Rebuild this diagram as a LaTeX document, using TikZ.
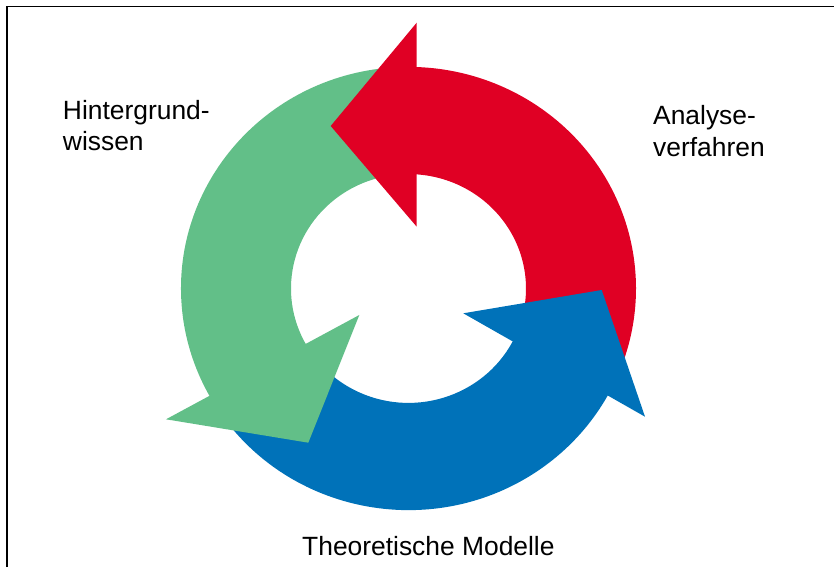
\documentclass[tikz,border=0pt]{standalone}
\usepackage{fontspec}
\setmainfont{Liberation Sans}
\definecolor{cyclered}{RGB}{224,0,36}
\definecolor{cyclegreen}{RGB}{98,191,136}
\definecolor{cycleblue}{RGB}{0,114,185}

\begin{document}
\begin{tikzpicture}[x=1pt, y=1pt, inner sep=0pt,
        cyclelabel/.style={font=\fontsize{26.4}{31.7}\selectfont, align=left, anchor=base west}]
    \useasboundingbox (-408.5, -278.5) rectangle (425.5, 288.5);
    \draw[line width=1.3pt] (-401.5, -278.5) -- (-401.5, 282.2) -- (425.5, 282.2); % frame
    % ring parts
    \fill[cyclered] (90:227.5 and 221.6) arc[start angle=90, end angle=-20, x radius=227.5, y radius=221.6]
        -- (-20:117.5 and 114.4) arc[start angle=-20, end angle=90, x radius=117.5, y radius=114.4] -- cycle; % analysis
    \fill[cyclegreen] (96:227.5 and 221.6) arc[start angle=96, end angle=213, x radius=227.5, y radius=221.6]
        -- (213:117.5 and 114.4) arc[start angle=213, end angle=96, x radius=117.5, y radius=114.4] -- cycle; % background
    \fill[cycleblue] (215:227.5 and 221.6) arc[start angle=215, end angle=338, x radius=227.5, y radius=221.6]
        -- (338:117.5 and 114.4) arc[start angle=338, end angle=215, x radius=117.5, y radius=114.4] -- cycle; % models
    % arrow heads
    \fill[cyclered] (8.2, 265.8) -- (-77.8, 162.5) -- (8.2, 61.8) -- cycle;
    \fill[cyclegreen] (-49.2, -26.5) -- (-242.5, -130.8) -- (-100.2, -154.2) -- cycle;
    \fill[cycleblue] (54.8, -24.8) -- (193.2, -1.5) -- (236.5, -128.2) -- cycle;
    % labels (base = last line)
    \node[cyclelabel] (wissen) at (-345.7, 137.5) {Hintergrund-\\wissen};
    \node[cyclelabel] (analyse) at (244.5, 132.0) {Analyse-\\verfahren};
    \node[cyclelabel] (modelle) at (-106.5, -266.5) {Theoretische Modelle};
\end{tikzpicture}
\end{document}
